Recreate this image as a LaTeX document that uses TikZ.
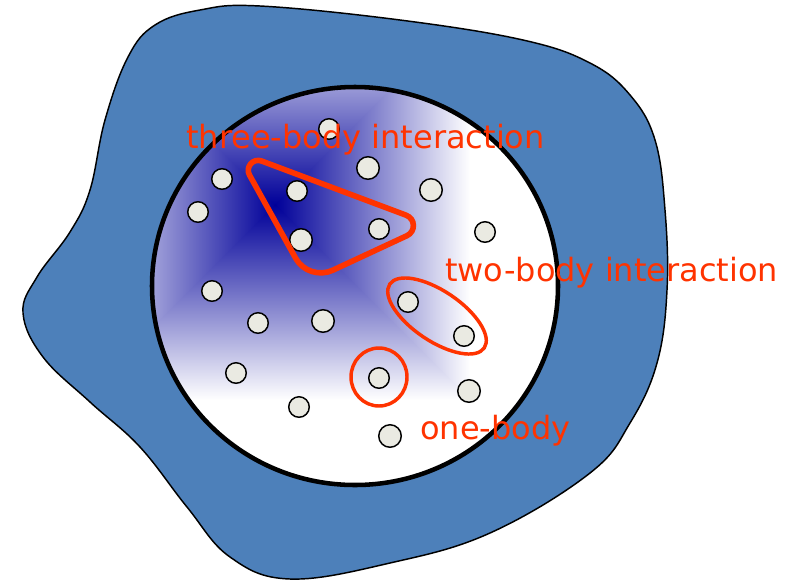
\documentclass[tikz,border=0pt]{standalone}
\usepackage{fontspec}
\setmainfont{DejaVu Sans}
\usepackage{xcolor}
\definecolor{blob-blue}{HTML}{4D80BA}
\definecolor{deep-blue}{HTML}{000099}
\definecolor{mid-blue}{HTML}{6969C3}
\definecolor{label-red}{HTML}{FF3300}
\definecolor{particle-grey}{HTML}{EAEAE2}

\begin{document}
\begin{tikzpicture}[x=0.75pt, y=-0.75pt,
        particle/.style={circle, draw=black, line width=1.1pt,
            fill=particle-grey, inner sep=0pt, minimum size=#1},
        particle/.default=15.4pt,
        ring/.style={draw=label-red, line width=2.6pt},
        label/.style={text=label-red, inner sep=0pt, anchor=base west,
            font=\fontsize{24}{29}\selectfont}]
      \useasboundingbox (0,0) rectangle (787,582);
      % outer region
      \draw[fill=blob-blue, line width=1.1pt] plot[smooth cycle, tension=0.65]
        coordinates {(260,6) (400,20) (523,40) (590,63) (630,95) (655,140)
        (665,210) (667,290) (657,363) (630,423) (590,473) (490,533)
        (390,563) (290,579) (230,557) (187,507) (140,447) (90,402)
        (43,357) (23,313) (37,277) (70,232) (90,190) (105,120) (128,57)
        (155,25) (200,10)};
      % inner domain with square gradient
      \coordinate (g) at (275,205);
      \begin{scope}
        \clip (355,286) ellipse [x radius=203, y radius=199];
        \fill[white] (140,80) rectangle (570,500);
        \shade[left color=deep-blue, middle color=mid-blue, right color=white]
          (275,25) rectangle (470,385);
        \shade[left color=white, middle color=mid-blue, right color=deep-blue]
          (80,25) rectangle (275,385);
        \begin{scope}
          \clip (g) -- (80,10) -- (470,10) -- cycle;
          \shade[top color=white, middle color=mid-blue, bottom color=deep-blue]
            (80,10) rectangle (470,205);
        \end{scope}
        \begin{scope}
          \clip (g) -- (80,400) -- (470,400) -- cycle;
          \shade[top color=deep-blue, middle color=mid-blue, bottom color=white]
            (80,205) rectangle (470,400);
        \end{scope}
      \end{scope}
      \draw[line width=3.4pt] (355,286) ellipse [x radius=203, y radius=199];
      % particles
      \foreach \px/\py/\d [count=\i] in {329/129/15.4pt, 368/168/16.9pt,
          222/179/15.4pt, 297/191/15.4pt, 431/190/16.9pt, 198/212/15.4pt,
          379/229/15.4pt, 301/240/16.9pt, 485/232/15.4pt, 212/291/15.4pt,
          408/302/15.4pt, 258/323/15.4pt, 323/321/16.9pt, 464/336/15.4pt,
          236/373/15.4pt, 379/378/15.4pt, 469/391/16.9pt, 299/407/15.4pt,
          390/436/16.9pt}
        \node[particle=\d] (p\i) at (\px,\py) {};
      % interaction loops
      \draw[ring, line width=4.2pt] (261.6,161) -- (406.1,215.2)
        .. controls (415.4,218.7) and (415.9,231.5) .. (406.9,235.7)
        -- (332.8,270.2)
        .. controls (319.2,276.5) and (302.9,271.3) .. (295.6,258.2)
        -- (249.5,175.1)
        .. controls (245.1,167.1) and (253,157.8) .. (261.6,161) -- cycle;
      \draw[ring] (437,316) ellipse [x radius=57, y radius=25, rotate=-34];
      \draw[ring] (379,377) ellipse [x radius=28, y radius=29];
      % labels
      \node[label] (three) at (186,148) {three-body interaction};
      \node[label] (two) at (445,281) {two-body interaction};
      \node[label] (one) at (420,439) {one-body};
    \end{tikzpicture}
\end{document}
